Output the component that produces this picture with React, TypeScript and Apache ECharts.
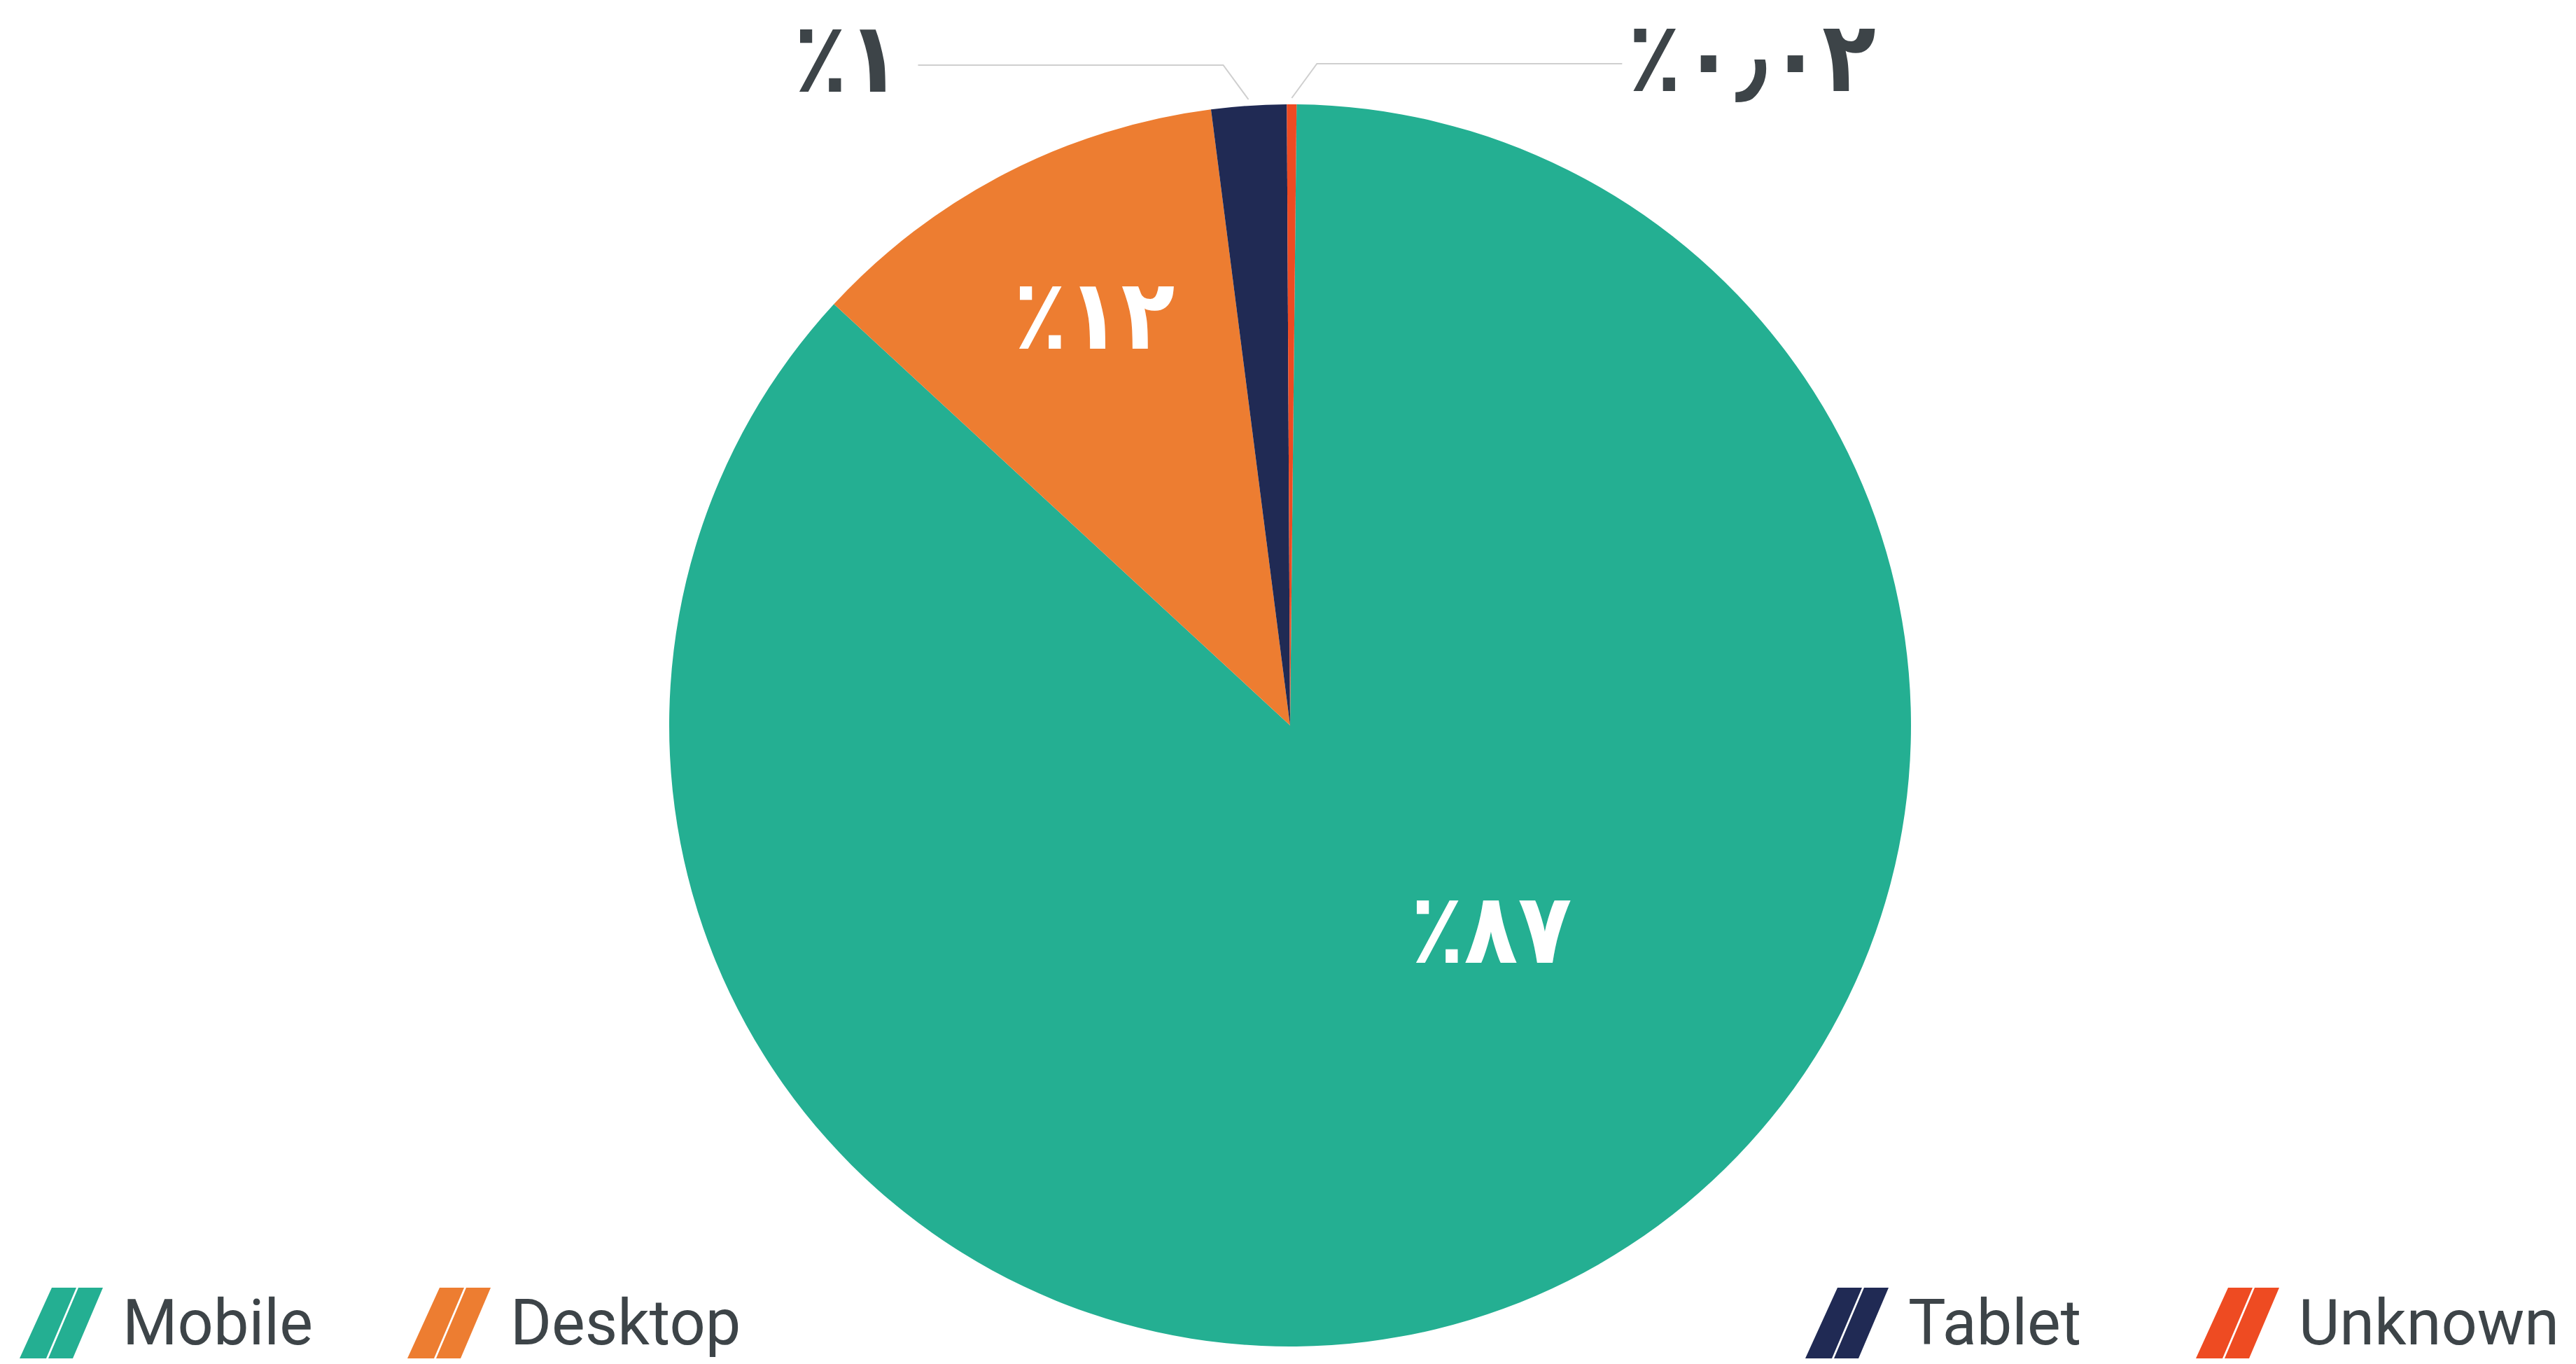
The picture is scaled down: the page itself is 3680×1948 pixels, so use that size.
import React, { useEffect, useRef } from 'react';
import * as echarts from 'echarts';

// ---- data ----
const categories = ['Mobile', 'Desktop', 'Tablet', 'Unknown'];
const shares = [86.7, 11.1, 1.95, 0.25];
const labelTexts = ['٪۸۷', '٪۱۲', '٪۱', '٪۰٫۰۲'];
const colors = ['#24AF92', '#ED7D31', '#202A54', '#EE4B22'];
const insideLabel = [true, true, false, false];

// ---- layout ----
const W = 3680;
const H = 1948;
const CX = 1843;
const CY = 1036;
const R = 887;
const START_ANGLE = 89.4;
const INSIDE_POS: Record<number, [number, number]> = { 0: [135.3, 0.46], 1: [-25.5, 0.733] };
const LEGEND_LEFT = [28, 582, 2579, 3137];
const LEGEND_TOP = 1839;
const ICON = 'path://M0 101L38 101L81 0L46 0Z M41 101L76 101L119 0L84 0Z';
const TEXT_COLOR = '#3d4448';

export default function App() {
  const ref = useRef<HTMLDivElement>(null);
  useEffect(() => {
    if (!ref.current) return;
    const chart = echarts.init(ref.current, undefined, { renderer: 'svg' });
    const total = shares.reduce((s, v) => s + v, 0);
    const option: any = {
      animation: false,
      backgroundColor: '#ffffff',
      legend: categories.map((name, i) => ({
        data: [name],
        left: LEGEND_LEFT[i],
        top: LEGEND_TOP,
        padding: 0,
        icon: ICON,
        itemWidth: 119,
        itemHeight: 101,
        selectedMode: false,
        textStyle: {
          fontFamily: 'Roboto',
          fontSize: 90,
          color: TEXT_COLOR,
          padding: [0, 0, 0, 23],
        },
      })),
      series: [
        {
          type: 'pie',
          center: [CX, CY],
          radius: R,
          startAngle: START_ANGLE,
          clockwise: true,
          avoidLabelOverlap: false,
          data: categories.map((name, i) => ({
            name,
            value: shares[i],
            itemStyle: { color: colors[i] },
            label: insideLabel[i]
              ? { position: 'inside', color: '#ffffff' }
              : { position: 'outside', color: TEXT_COLOR },
            labelLine: { show: !insideLabel[i] },
          })),
          label: {
            show: true,
            formatter: (p: any) => labelTexts[p.dataIndex],
            fontFamily: "'DejaVu Sans Condensed', 'DejaVu Sans'",
            fontWeight: 'bold',
            fontSize: 140,
          },
          labelLine: {
            show: true,
            lineStyle: { color: '#cfcfcf', width: 2 },
          },
          labelLayout: (p: any) => {
            const i = p.dataIndex;
            if (insideLabel[i]) {
              const [a, f] = INSIDE_POS[i];
              const rad = (a * Math.PI) / 180;
              return {
                x: CX + f * R * Math.sin(rad),
                y: CY - f * R * Math.cos(rad),
                align: 'center',
                verticalAlign: 'middle',
              };
            }
            let before = 0;
            for (let k = 0; k < i; k++) before += shares[k];
            const rad = ((before + shares[i] / 2) / total) * 2 * Math.PI + ((90 - START_ANGLE) * Math.PI) / 180;
            const x0 = CX + (R + 9) * Math.sin(rad);
            const y0 = CY - (R + 9) * Math.cos(rad);
            const side = i === 2 ? -1 : 1;
            const x1 = x0 + side * 36;
            const y1 = y0 - 49;
            const x2 = x1 + side * 436;
            return {
              x: x2 + (side < 0 ? -24 : 8),
              y: y1 - 10,
              align: side < 0 ? 'right' : 'left',
              verticalAlign: 'middle',
              labelLinePoints: [
                [x0, y0],
                [x1, y1],
                [x2, y1],
              ],
            };
          },
        },
      ],
    };
    chart.setOption(option);
    return () => chart.dispose();
  }, []);
  return (
    <div
      ref={ref}
      style={{ position: 'absolute', left: 0, top: 0, width: W, height: H }}
    />
  );
}
